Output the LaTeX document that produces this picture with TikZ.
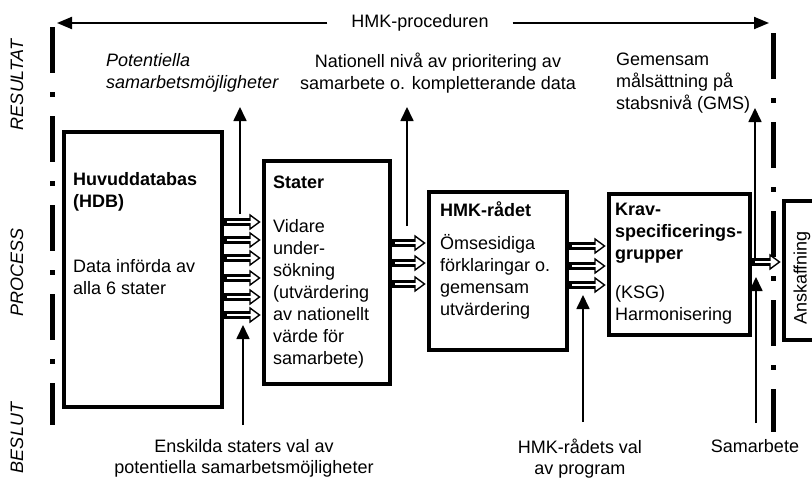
\documentclass[tikz,border=0pt]{standalone}
\usepackage{fontspec}
\setmainfont{Liberation Sans}
\usetikzlibrary{arrows.meta,calc}
\newcommand\dblarr[2]{%
  \draw[line width=7.5pt] #1 -- ($#2+(-10pt,0)$);
  \draw[line width=1.4pt, fill=white, line join=miter] ($#2+(-12pt,-7pt)$) -- ($#2+(-2.5pt,0)$) -- ($#2+(-12pt,7pt)$) -- cycle;
  \draw[white, line width=2pt] ($#1+(3pt,0)$) -- ($#2+(-6pt,0)$);
}
\begin{document}
\begin{tikzpicture}[x=1pt,y=-1pt,
  font=\fontsize{18}{22}\selectfont,
  box/.style={draw, line width=4pt, inner sep=0pt, anchor=north west},
  txt/.style={inner sep=0pt, align=left, anchor=north west},
  ctxt/.style={inner sep=0pt, align=center, anchor=north},
  dashdot/.style={line width=5pt, dash pattern=on 46pt off 19pt on 5pt off 19pt},
  thinarr/.style={line width=1.7pt, -{Triangle[length=14pt,width=13pt]}},
  toparr/.style={line width=2pt, -{Triangle[length=15pt,width=12pt]}},
  side/.style={rotate=90, font=\fontsize{18}{22}\selectfont\itshape, inner sep=0pt},
]
\useasboundingbox (0,0) rectangle (812,479);

% side labels
\node[side] (res) at (17,85) {RESULTAT};
\node[side] (proc) at (17,272) {PROCESS};
\node[side] (bes) at (17,438) {BESLUT};

% dash-dot boundaries
\coordinate (lt) at (52,27);
\coordinate (lb) at (52,425);
\coordinate (rt) at (773,33);
\coordinate (rb) at (773,432);
\draw[dashdot] (lt) -- (lb);
\draw[dashdot] (rt) -- (rb);

% top arrow
\node[inner ysep=0pt, inner xsep=24pt] (hmkp) at (420,23) {HMK-proceduren};
\coordinate (pl) at (57,23);
\coordinate (pr) at (769,23);
\draw[toparr] (hmkp.west) -- (pl);
\draw[toparr] (hmkp.east) -- (pr);

% boxes
\node[box, minimum width=158pt, minimum height=275pt] (hdb) at (62,130) {};
\node[box, minimum width=126pt, minimum height=223pt] (stater) at (262,159) {};
\node[box, minimum width=138pt, minimum height=158pt] (hmk) at (427,190) {};
\node[box, minimum width=141pt, minimum height=141pt] (krav) at (607,192) {};
\node[box, minimum width=60pt, minimum height=139pt] (ansk) at (782,199) {};

% box texts
\node[txt] (hdbt) at (73,172) {\textbf{Huvuddatabas}\\\textbf{(HDB)}\\[43pt]Data införda av\\alla 6 stater};
\node[txt] (statert) at (273,176) {\textbf{Stater}\\[22pt]Vidare\\under-\\sökning\\(utvärdering\\av nationellt\\värde för\\samarbete)};
\node[txt] (hmkt) at (440,201) {\textbf{HMK-rådet}\\[11pt]Ömsesidiga\\förklaringar o.\\gemensam\\utvärdering};
\node[txt] (kravt) at (615,203) {\textbf{Krav-}\\\textbf{specificerings-}\\\textbf{grupper}\\[17pt](KSG)\\Harmonisering};
\node[rotate=90, inner sep=0pt] (anskt) at (802,278) {Anskaffning};

% double arrows
\foreach \yy in {222,240,258,278,297,315} {\dblarr{(hdb.east |- 0,\yy)}{(stater.west |- 0,\yy)}}
\foreach \yy in {243,263,284} {\dblarr{(stater.east |- 0,\yy)}{(hmk.west |- 0,\yy)}}
\foreach \yy in {246,266,285} {\dblarr{(hmk.east |- 0,\yy)}{(krav.west |- 0,\yy)}}
\dblarr{(krav.east |- 0,262)}{(ansk.west |- 0,262)}

% result texts
\node[txt, font=\fontsize{18}{22}\selectfont\itshape] (pot) at (106,53) {Potentiella\\samarbetsmöjligheter};
\node[ctxt] (nat) at (438,53) {Nationell nivå av prioritering av\\samarbete o. kompletterande data};
\node[txt] (gms) at (616,53) {Gemensam\\målsättning på\\stabsnivå (GMS)};

% result arrows
\coordinate (a1s) at (240,214); \coordinate (a1e) at (240,107);
\coordinate (a2s) at (407,226); \coordinate (a2e) at (407,107);
\coordinate (a3s) at (755,258); \coordinate (a3e) at (755,108);
\draw[thinarr] (a1s) -- (a1e);
\draw[thinarr] (a2s) -- (a2e);
\draw[thinarr] (a3s) -- (a3e);

% decision arrows
\coordinate (b1s) at (243,425); \coordinate (b1e) at (243,325);
\coordinate (b2s) at (583,422); \coordinate (b2e) at (583,295);
\coordinate (b3s) at (756,423); \coordinate (b3e) at (756,277);
\draw[thinarr] (b1s) -- (b1e);
\draw[thinarr] (b2s) -- (b2e);
\draw[thinarr] (b3s) -- (b3e);

% decision texts
\node[ctxt, font=\fontsize{18}{21}\selectfont] (ensk) at (244,439) {Enskilda staters val av\\potentiella samarbetsmöjligheter};
\node[ctxt, font=\fontsize{18}{21}\selectfont] (hmkval) at (580,439) {HMK-rådets val\\av program};
\node[ctxt] (samb) at (755,439) {Samarbete};
\end{tikzpicture}
\end{document}
